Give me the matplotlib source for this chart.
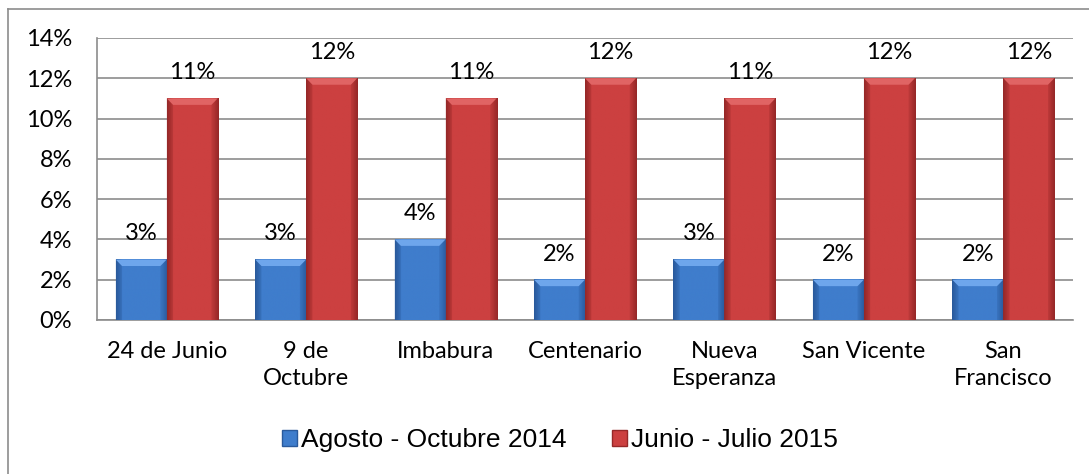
import matplotlib
matplotlib.use("Agg")
import matplotlib.pyplot as plt
import numpy as np
from matplotlib.patches import Patch, Polygon
from matplotlib.lines import Line2D
from matplotlib.colors import to_rgb

categories = ["24 de Junio", "9 de\nOctubre", "Imbabura", "Centenario",
              "Nueva\nEsperanza", "San Vicente", "San\nFrancisco"]
series_names = ["Agosto - Octubre 2014", "Junio - Julio 2015"]
values_2014 = [3, 3, 4, 2, 3, 2, 2]
values_2015 = [11, 12, 11, 12, 11, 12, 12]
yticks = [0, 2, 4, 6, 8, 10, 12, 14]

W, H, DPI = 1089, 474, 100
fig = plt.figure(figsize=(W / DPI, H / DPI), dpi=DPI)
ax = fig.add_axes([97 / W, 1 - 320 / H, (1073 - 97) / W, (320 - 38) / H])

tick_font = "Lato"
leg_font = "Liberation Sans"
fs = 17

x = np.arange(len(categories))
bw = 0.366

palettes = {
    0: dict(edge="#2a5a9c", mid="#3f7dcc", top="#6ea6ec"),
    1: dict(edge="#962828", mid="#cc4040", top="#e06464"),
}


def grad_bar(ax, xc, h, pal):
    left = xc - bw / 2
    n = 64
    t = np.linspace(0, 1, n)
    prof = np.clip(np.minimum(t, 1 - t) / 0.12, 0, 1)
    e = np.array(to_rgb(pal["edge"]))
    m = np.array(to_rgb(pal["mid"]))
    cols = e[None, :] * (1 - prof[:, None]) + m[None, :] * prof[:, None]
    img = cols[None, :, :]
    ax.imshow(img, extent=(left, left + bw, 0, h), aspect="auto",
              interpolation="bilinear", zorder=3)
    dy = 0.32
    dx = 0.045
    ax.add_patch(Polygon([(left, h), (left + bw, h), (left + bw - dx, h - dy),
                          (left + dx, h - dy)], closed=True, facecolor=pal["top"],
                         edgecolor="none", zorder=4))
    ax.add_patch(Polygon([(left, h), (left + dx, h - dy), (left + dx, 0), (left, 0)],
                         closed=True, facecolor=pal["edge"], edgecolor="none",
                         alpha=0.3, zorder=4))
    ax.add_patch(Polygon([(left + bw, h), (left + bw - dx, h - dy), (left + bw - dx, 0),
                          (left + bw, 0)], closed=True, facecolor=pal["edge"],
                         edgecolor="none", alpha=0.3, zorder=4))


for i in range(len(categories)):
    for s, vals in enumerate([values_2014, values_2015]):
        xc = x[i] - bw / 2 + s * bw
        grad_bar(ax, xc, vals[i], palettes[s])
        ax.annotate(f"{vals[i]}%", (xc, vals[i]), xytext=(0, 18.5),
                    textcoords="offset points", ha="center", va="center",
                    fontsize=fs, family=tick_font, color="black", zorder=5)

ax.set_xlim(-0.5, len(categories) - 0.5)
ax.set_ylim(0, 14)
ax.set_yticks(yticks)
ax.set_yticklabels([f"{v}%" for v in yticks], family=tick_font, fontsize=fs)
ax.set_xticks(x)
ax.set_xticklabels(categories, family=tick_font, fontsize=fs, linespacing=1.35)
ax.tick_params(axis="y", length=0, pad=18)
ax.tick_params(axis="x", length=0, pad=15)
ax.yaxis.grid(True, color="#8c8c8c", linewidth=1.2, zorder=0)
ax.set_axisbelow(True)
for sp in ["top", "right"]:
    ax.spines[sp].set_visible(False)
for sp in ["left", "bottom"]:
    ax.spines[sp].set_color("#8c8c8c")
    ax.spines[sp].set_linewidth(1.2)

handles = [Patch(facecolor=palettes[0]["mid"], edgecolor=palettes[0]["edge"]),
           Patch(facecolor=palettes[1]["mid"], edgecolor=palettes[1]["edge"])]
fig.legend(handles, series_names, loc="center", bbox_to_anchor=(560 / W, 1 - 440 / H),
           ncol=2, frameon=False, prop={"family": leg_font, "size": 19},
           handlelength=0.57, handleheight=0.57, handletextpad=0.15, columnspacing=1.7)

fig.add_artist(Line2D([8 / W, 8 / W], [1 - 9 / H, 0], transform=fig.transFigure,
                      color="#8c8c8c", linewidth=1.2))
fig.add_artist(Line2D([8 / W, 1], [1 - 9 / H, 1 - 9 / H], transform=fig.transFigure,
                      color="#8c8c8c", linewidth=1.2))

fig.savefig("out.png", dpi=DPI, facecolor="white")
